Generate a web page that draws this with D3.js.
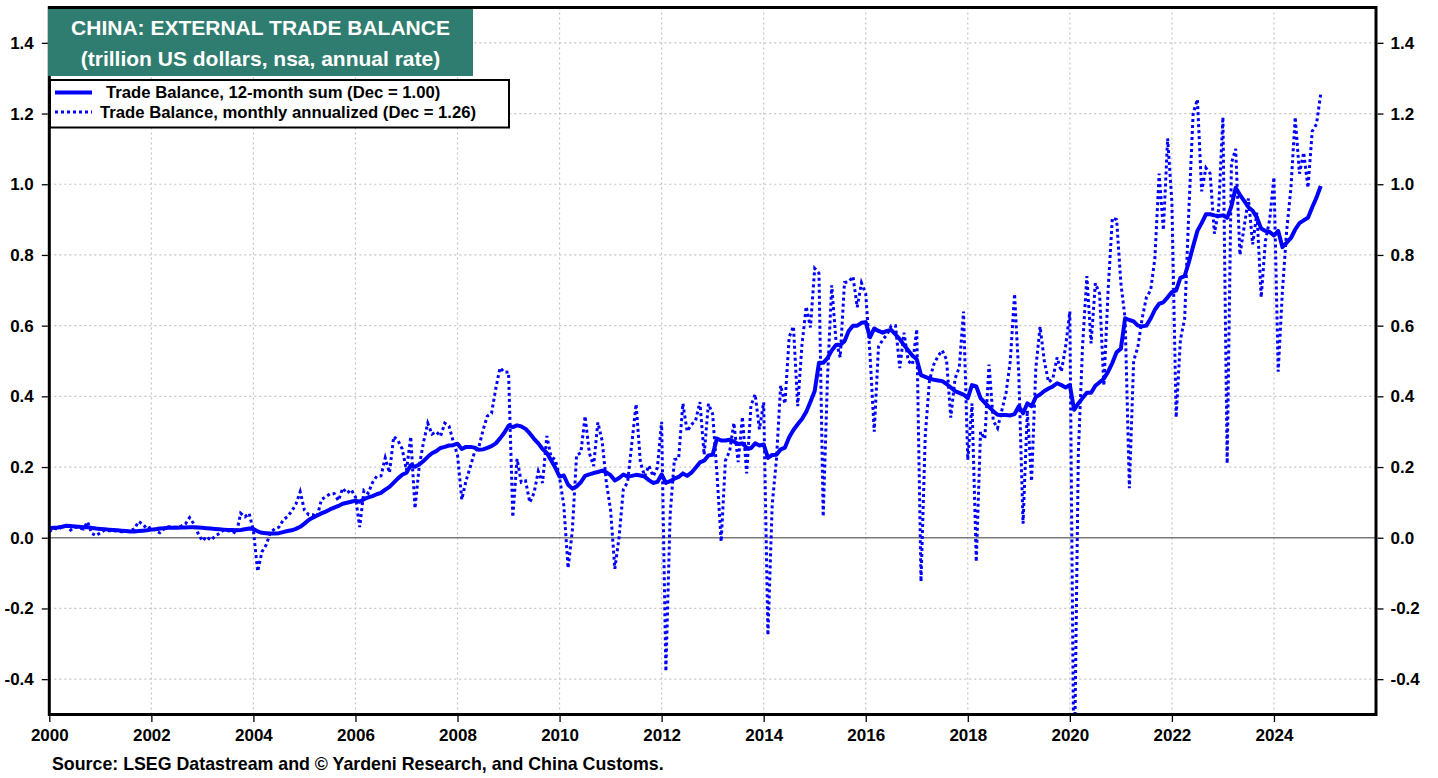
<!DOCTYPE html>
<html>
<head>
<meta charset="utf-8">
<script src="https://cdn.jsdelivr.net/npm/d3@7"></script>
<style>
  body { margin: 0; background: #fff; }
  svg text { font-family: "Liberation Sans", Arial, Helvetica, sans-serif; }
</style>
</head>
<body>
<script>
var width = 1438,
    height = 778;

// chart data (trillion US$), one value per month, Jan 2000 .. Dec 2024
var startYear = 2000;
var yearTicks = [2000, 2002, 2004, 2006, 2008, 2010, 2012, 2014, 2016, 2018, 2020, 2022, 2024];
var valueTicks = [-0.4, -0.2, 0.0, 0.2, 0.4, 0.6, 0.8, 1.0, 1.2, 1.4];

var sum12 = [
  0.027, 0.028, 0.029, 0.031, 0.034, 0.033, 0.032, 0.031, 0.030, 0.030, 0.028, 0.026, // 2000
  0.025, 0.024, 0.023, 0.022, 0.021, 0.020, 0.019, 0.018, 0.018, 0.019, 0.020, 0.021, // 2001
  0.023, 0.024, 0.026, 0.027, 0.028, 0.028, 0.028, 0.029, 0.029, 0.030, 0.030, 0.029, // 2002
  0.028, 0.027, 0.026, 0.025, 0.024, 0.023, 0.022, 0.022, 0.021, 0.022, 0.024, 0.026, // 2003
  0.025, 0.018, 0.014, 0.013, 0.012, 0.012, 0.013, 0.016, 0.019, 0.021, 0.025, 0.031, // 2004
  0.040, 0.050, 0.057, 0.063, 0.069, 0.074, 0.080, 0.085, 0.090, 0.096, 0.099, 0.102, // 2005
  0.105, 0.102, 0.109, 0.114, 0.118, 0.123, 0.127, 0.136, 0.144, 0.156, 0.168, 0.178, // 2006
  0.184, 0.205, 0.201, 0.207, 0.217, 0.229, 0.239, 0.245, 0.254, 0.257, 0.261, 0.262, // 2007
  0.266, 0.251, 0.257, 0.257, 0.255, 0.249, 0.250, 0.254, 0.259, 0.267, 0.281, 0.297, // 2008
  0.317, 0.313, 0.318, 0.315, 0.308, 0.295, 0.280, 0.267, 0.251, 0.240, 0.219, 0.198, // 2009
  0.173, 0.176, 0.150, 0.139, 0.145, 0.157, 0.175, 0.179, 0.183, 0.186, 0.190, 0.185, // 2010
  0.177, 0.162, 0.169, 0.179, 0.173, 0.175, 0.178, 0.176, 0.173, 0.163, 0.155, 0.158, // 2011
  0.179, 0.155, 0.160, 0.167, 0.172, 0.182, 0.175, 0.184, 0.198, 0.213, 0.218, 0.233, // 2012
  0.235, 0.281, 0.275, 0.275, 0.277, 0.272, 0.265, 0.267, 0.254, 0.253, 0.267, 0.261, // 2013
  0.264, 0.226, 0.234, 0.235, 0.250, 0.255, 0.284, 0.305, 0.321, 0.336, 0.356, 0.385, // 2014
  0.415, 0.495, 0.495, 0.508, 0.530, 0.545, 0.545, 0.556, 0.585, 0.600, 0.600, 0.608, // 2015
  0.610, 0.567, 0.592, 0.585, 0.580, 0.585, 0.588, 0.575, 0.562, 0.545, 0.530, 0.515, // 2016
  0.505, 0.460, 0.455, 0.450, 0.447, 0.445, 0.443, 0.435, 0.425, 0.415, 0.410, 0.405, // 2017
  0.395, 0.432, 0.428, 0.395, 0.382, 0.370, 0.358, 0.348, 0.347, 0.347, 0.346, 0.350, // 2018
  0.372, 0.352, 0.380, 0.372, 0.398, 0.405, 0.415, 0.422, 0.428, 0.437, 0.432, 0.425, // 2019
  0.432, 0.362, 0.380, 0.395, 0.410, 0.410, 0.430, 0.440, 0.450, 0.470, 0.495, 0.525, // 2020
  0.535, 0.621, 0.616, 0.612, 0.600, 0.598, 0.600, 0.620, 0.645, 0.662, 0.666, 0.680, // 2021
  0.695, 0.700, 0.735, 0.740, 0.780, 0.825, 0.868, 0.890, 0.915, 0.915, 0.912, 0.910, // 2022
  0.912, 0.905, 0.938, 0.990, 0.970, 0.953, 0.935, 0.925, 0.905, 0.875, 0.868, 0.865, // 2023
  0.855, 0.868, 0.822, 0.835, 0.848, 0.872, 0.890, 0.898, 0.905, 0.935, 0.962, 0.995  // 2024
];

var monthly = [
  0.017, 0.027, 0.024, 0.030, 0.034, 0.022, 0.030, 0.028, 0.025, 0.045, 0.012, 0.006, // 2000
  0.014, 0.022, 0.020, 0.020, 0.019, 0.017, 0.018, 0.020, 0.025, 0.046, 0.038, 0.025, // 2001
  0.031, 0.020, 0.014, 0.025, 0.031, 0.030, 0.030, 0.033, 0.039, 0.057, 0.039, 0.012, // 2002
  -0.009, 0.003, -0.007, 0.005, 0.012, 0.022, 0.020, 0.018, 0.012, 0.069, 0.059, 0.069, // 2003
  0.020, -0.095, -0.040, -0.020, 0.015, 0.025, 0.030, 0.050, 0.060, 0.075, 0.095, 0.130, // 2004
  0.078, 0.065, 0.065, 0.060, 0.108, 0.116, 0.124, 0.125, 0.105, 0.140, 0.126, 0.136, // 2005
  0.115, 0.030, 0.134, 0.126, 0.156, 0.174, 0.175, 0.226, 0.184, 0.286, 0.275, 0.251, // 2006
  0.191, 0.286, 0.083, 0.203, 0.270, 0.324, 0.293, 0.300, 0.287, 0.324, 0.316, 0.272, // 2007
  0.234, 0.108, 0.161, 0.200, 0.242, 0.256, 0.304, 0.344, 0.352, 0.422, 0.481, 0.468, // 2008
  0.469, 0.058, 0.223, 0.157, 0.161, 0.100, 0.127, 0.188, 0.155, 0.288, 0.229, 0.221, // 2009
  0.170, 0.091, -0.086, 0.020, 0.234, 0.240, 0.344, 0.240, 0.203, 0.326, 0.275, 0.157, // 2010
  0.078, -0.088, 0.002, 0.137, 0.157, 0.268, 0.378, 0.214, 0.174, 0.204, 0.174, 0.198, // 2011
  0.328, -0.378, 0.065, 0.221, 0.224, 0.380, 0.301, 0.320, 0.332, 0.384, 0.235, 0.379, // 2012
  0.350, 0.184, -0.011, 0.218, 0.245, 0.325, 0.214, 0.342, 0.182, 0.373, 0.406, 0.307, // 2013
  0.383, -0.276, 0.092, 0.222, 0.431, 0.379, 0.568, 0.598, 0.372, 0.545, 0.654, 0.595, // 2014
  0.762, 0.748, 0.060, 0.450, 0.714, 0.558, 0.510, 0.722, 0.724, 0.739, 0.652, 0.721, // 2015
  0.690, 0.520, 0.300, 0.540, 0.560, 0.575, 0.600, 0.600, 0.480, 0.580, 0.500, 0.490, // 2016
  0.590, -0.124, 0.290, 0.446, 0.490, 0.514, 0.530, 0.504, 0.340, 0.450, 0.482, 0.640, // 2017
  0.220, 0.380, -0.068, 0.300, 0.280, 0.490, 0.330, 0.310, 0.360, 0.410, 0.500, 0.690, // 2018
  0.460, 0.040, 0.360, 0.160, 0.480, 0.597, 0.500, 0.440, 0.450, 0.510, 0.470, 0.540, // 2019
  0.640, -0.720, 0.240, 0.544, 0.740, 0.550, 0.720, 0.690, 0.430, 0.700, 0.905, 0.900, // 2020
  0.720, 0.620, 0.140, 0.500, 0.540, 0.620, 0.680, 0.700, 0.790, 1.030, 0.870, 1.130, // 2021
  0.950, 0.340, 0.560, 0.620, 0.930, 1.200, 1.240, 0.980, 1.046, 1.030, 0.860, 0.930, // 2022
  1.190, 0.210, 1.060, 1.100, 0.800, 0.880, 0.960, 0.830, 0.920, 0.680, 0.840, 0.900, // 2023
  1.020, 0.470, 0.700, 0.870, 0.990, 1.190, 1.030, 1.090, 0.990, 1.150, 1.170, 1.255  // 2024
];

var titleLines = ["CHINA: EXTERNAL TRADE BALANCE", "(trillion US dollars, nsa, annual rate)"];
var legendItems = [
  {label: "Trade Balance, 12-month sum (Dec = 1.00)", dash: null, width: 4},
  {label: "Trade Balance, monthly annualized (Dec = 1.26)", dash: "3 3", width: 3}
];
var sourceText = "Source: LSEG Datastream and \u00A9 Yardeni Research, and China Customs.";

var lineColor = "#0000ff";

var x = d3.scaleLinear().domain([2000, 2026]).range([49.3, 1376]);
var y = d3.scaleLinear().domain([-0.5, 1.5]).range([714.5, 7.5]);

var svg = d3.select("body").append("svg")
    .attr("width", width)
    .attr("height", height);

svg.append("defs").append("clipPath")
    .attr("id", "plot-clip")
    .append("rect")
    .attr("x", x(2000))
    .attr("y", y(1.5))
    .attr("width", x(2026) - x(2000))
    .attr("height", y(-0.5) - y(1.5));

// grid
var grid = svg.append("g").attr("class", "grid");
grid.selectAll("line.vgrid")
    .data(yearTicks.slice(1))
    .join("line")
    .attr("x1", function (d) { return x(d); })
    .attr("x2", function (d) { return x(d); })
    .attr("y1", y(1.5))
    .attr("y2", y(-0.5))
    .attr("stroke", "#c4c4c4")
    .attr("stroke-width", 1.2)
    .attr("stroke-dasharray", "2 3");
grid.selectAll("line.hgrid")
    .data(valueTicks.filter(function (d) { return d !== 0; }))
    .join("line")
    .attr("x1", x(2000))
    .attr("x2", x(2026))
    .attr("y1", function (d) { return y(d); })
    .attr("y2", function (d) { return y(d); })
    .attr("stroke", "#c4c4c4")
    .attr("stroke-width", 1.2)
    .attr("stroke-dasharray", "2 3");
grid.append("line")
    .attr("x1", x(2000))
    .attr("x2", x(2026))
    .attr("y1", y(0))
    .attr("y2", y(0))
    .attr("stroke", "#7a7a7a")
    .attr("stroke-width", 1.5);

// series
function monthX(d, i) { return x(startYear + i / 12); }

var plot = svg.append("g").attr("clip-path", "url(#plot-clip)");
plot.append("path")
    .datum(monthly)
    .attr("fill", "none")
    .attr("stroke", lineColor)
    .attr("stroke-width", 3)
    .attr("stroke-dasharray", "3 3")
    .attr("d", d3.line().x(monthX).y(function (d) { return y(d); }));
plot.append("path")
    .datum(sum12)
    .attr("fill", "none")
    .attr("stroke", lineColor)
    .attr("stroke-width", 4)
    .attr("stroke-linejoin", "round")
    .attr("d", d3.line().x(monthX).y(function (d) { return y(d); }));

// frame
svg.append("rect")
    .attr("x", x(2000))
    .attr("y", y(1.5))
    .attr("width", x(2026) - x(2000))
    .attr("height", y(-0.5) - y(1.5))
    .attr("fill", "none")
    .attr("stroke", "#000")
    .attr("stroke-width", 3);

// axes
function fmt(d) { return d.toFixed(1); }

var leftAxis = svg.append("g")
    .attr("transform", "translate(" + (x(2000) - 1.5) + ",0)")
    .call(d3.axisLeft(y).tickValues(valueTicks).tickFormat(fmt).tickSize(6).tickPadding(8));
var rightAxis = svg.append("g")
    .attr("transform", "translate(" + (x(2026) + 1.5) + ",0)")
    .call(d3.axisRight(y).tickValues(valueTicks).tickFormat(fmt).tickSize(6).tickPadding(7));
var bottomAxis = svg.append("g")
    .attr("transform", "translate(0," + (y(-0.5) + 1.5) + ")")
    .call(d3.axisBottom(x).tickValues(yearTicks).tickFormat(d3.format("d")).tickSize(6).tickPadding(7));

[leftAxis, rightAxis, bottomAxis].forEach(function (a) {
    a.select(".domain").remove();
    a.selectAll(".tick line").attr("stroke", "#000").attr("stroke-width", 1.3);
    a.selectAll(".tick text")
        .attr("fill", "#000")
        .style("font-size", "17px")
        .style("font-weight", "bold");
});

// title box
svg.append("rect")
    .attr("x", 48)
    .attr("y", 9)
    .attr("width", 425)
    .attr("height", 67)
    .attr("fill", "#2f7d70");
svg.selectAll("text.title")
    .data(titleLines)
    .join("text")
    .attr("class", "title")
    .attr("x", 260.5)
    .attr("y", function (d, i) { return 35 + i * 31; })
    .attr("text-anchor", "middle")
    .attr("fill", "#fff")
    .style("font-size", "21px")
    .style("font-weight", "bold")
    .text(function (d) { return d; });

// legend
var legend = svg.append("g");
legend.append("rect")
    .attr("x", 50)
    .attr("y", 80)
    .attr("width", 459)
    .attr("height", 47.5)
    .attr("fill", "#fff")
    .attr("stroke", "#000")
    .attr("stroke-width", 2);
var items = legend.selectAll("g.item")
    .data(legendItems)
    .join("g")
    .attr("transform", function (d, i) { return "translate(0," + (i * 19.5) + ")"; });
items.append("line")
    .attr("x1", 55)
    .attr("x2", 92)
    .attr("y1", 92.5)
    .attr("y2", 92.5)
    .attr("stroke", lineColor)
    .attr("stroke-width", function (d) { return d.width; })
    .attr("stroke-dasharray", function (d) { return d.dash; });
items.append("text")
    .attr("x", function (d, i) { return i === 0 ? 106 : 100; })
    .attr("y", 98)
    .attr("fill", "#000")
    .style("font-size", "16.7px")
    .style("font-weight", "bold")
    .text(function (d) { return d.label; });

// source
svg.append("text")
    .attr("x", 52)
    .attr("y", 770)
    .attr("fill", "#000")
    .style("font-size", "17.8px")
    .style("font-weight", "bold")
    .text(sourceText);
</script>
</body>
</html>
